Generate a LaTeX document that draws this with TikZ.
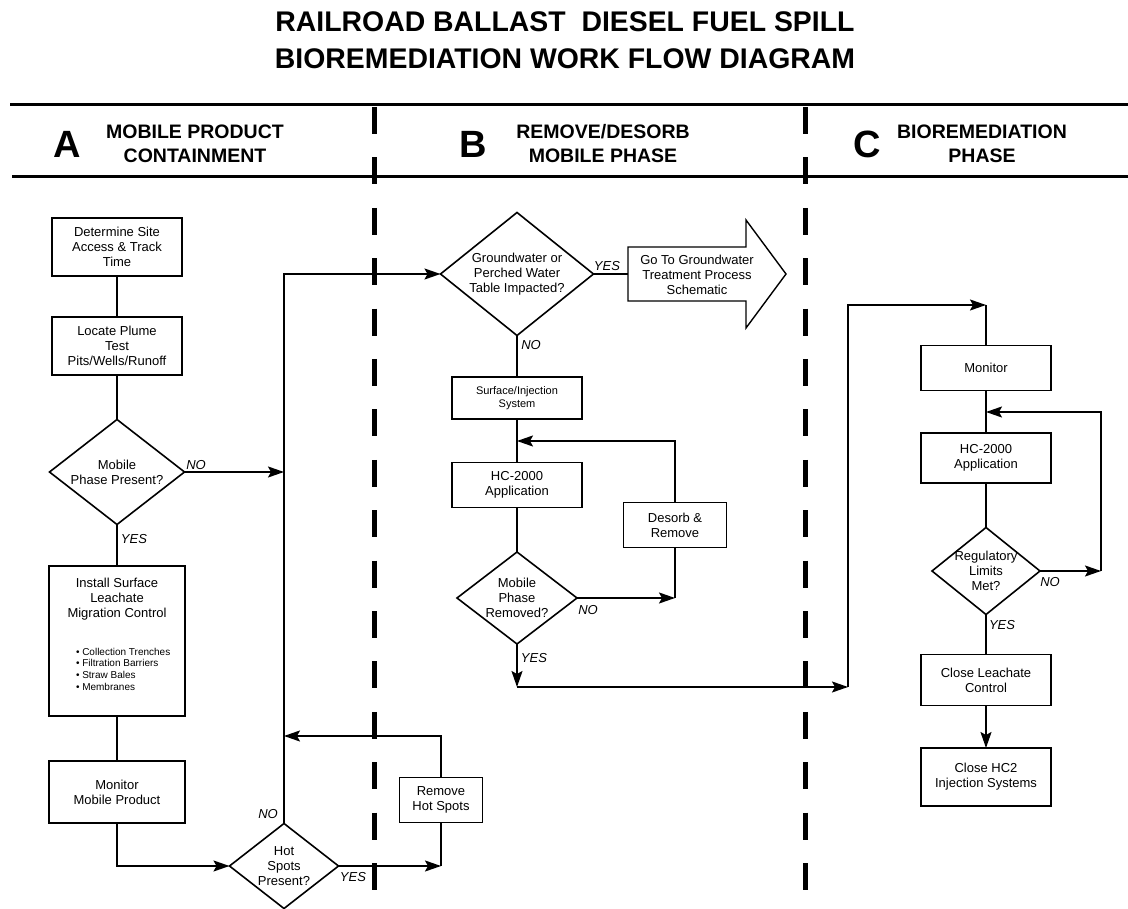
\documentclass[tikz,border=0pt]{standalone}
\usepackage{fontspec}
\setmainfont{Liberation Sans}
\usetikzlibrary{arrows.meta,shapes.geometric,calc}
\begin{document}
\begin{tikzpicture}[x=1pt,y=-1pt,
  every node/.style={inner sep=0pt, outer sep=0pt},
  fbox/.style={draw, line width=1.6pt, align=center, font=\fontsize{13}{15}\selectfont},
  dia/.style={diamond, draw, line width=1.6pt, align=center, inner sep=-10pt, font=\fontsize{13}{15}\selectfont},
  con/.style={line width=1.8pt},
  arr/.style={con, -{Stealth[length=16pt,width=11pt,inset=3pt]}},
  lab/.style={font=\fontsize{13}{15}\selectfont\itshape},
  hdr/.style={font=\fontsize{19.5}{24}\selectfont\bfseries, align=center},
  bigletter/.style={font=\fontsize{38}{40}\selectfont\bfseries},
  sepline/.style={line width=5pt, dash pattern=on 27pt off 23.4pt},
  rule/.style={line width=3pt}
]
\useasboundingbox (0,0) rectangle (1128,909);

% title
\node[font=\fontsize{28.4}{36.5}\selectfont\bfseries, align=center] (title) at (565,40)
  {RAILROAD BALLAST\ \ DIESEL FUEL SPILL\\BIOREMEDIATION WORK FLOW DIAGRAM};

% header band
\draw[rule] (10,105) -- (1128,105);
\draw[rule] (12,177) -- (1128,177);
\draw[sepline] (374,107) -- (374,890);
\draw[sepline] (805,107) -- (805,890);

\node[bigletter] (hA) at (67,144) {A};
\node[hdr] (hAt) at (195,144) {MOBILE PRODUCT\\CONTAINMENT};
\node[bigletter] (hB) at (473,144) {B};
\node[hdr] (hBt) at (603,144) {REMOVE/DESORB\\MOBILE PHASE};
\node[bigletter] (hC) at (867,144) {C};
\node[hdr] (hCt) at (982,144) {BIOREMEDIATION\\PHASE};

% column A
\node[fbox, minimum width=130, minimum height=58] (n1) at (117,247) {Determine Site\\Access \& Track\\Time};
\node[fbox, minimum width=130, minimum height=58] (n2) at (117,346) {Locate Plume\\Test\\Pits/Wells/Runoff};
\node[dia, minimum width=135, minimum height=105] (d1) at (117,472) {Mobile\\Phase Present?};
\node[fbox, minimum width=136, minimum height=150] (n3) at (117,641) {};
\node[font=\fontsize{13}{15}\selectfont, align=center] (n3t) at (117,599) {Install Surface\\Leachate\\Migration Control};
\node[font=\fontsize{10}{11.7}\selectfont, align=left, anchor=west] (n3b) at (76,669)
  {• Collection Trenches\\• Filtration Barriers\\• Straw Bales\\• Membranes};
\node[fbox, minimum width=136, minimum height=62] (n4) at (117,792) {Monitor\\Mobile Product};
\node[dia, minimum width=109, minimum height=85] (d2) at (284,866) {Hot\\Spots\\Present?};
\node[fbox, minimum width=83, minimum height=45] (n5) at (441,800) {Remove\\Hot Spots};
\coordinate (hsin) at (284,736);

% column B
\node[dia, minimum width=153, minimum height=123] (gw) at (517,274) {Groundwater or\\Perched Water\\Table Impacted?};
\draw[line width=1.4pt] (628,247) -- (746,247) -- (746,220) -- (786,274) -- (746,328) -- (746,301) -- (628,301) -- cycle;
\coordinate (gotail) at (628,274);
\node[font=\fontsize{13}{15}\selectfont, align=center] (got) at (697,275) {Go To Groundwater\\Treatment Process\\Schematic};
\node[fbox, font=\fontsize{11}{13}\selectfont, minimum width=130, minimum height=42] (n6) at (517,398) {Surface/Injection\\System};
\node[fbox, minimum width=130, minimum height=45] (n7) at (517,485) {HC-2000\\Application};
\node[dia, minimum width=120, minimum height=92] (d3) at (517,598) {Mobile\\Phase\\Removed?};
\node[fbox, minimum width=103, minimum height=45] (n8) at (675,525) {Desorb \&\\Remove};
\coordinate (hcin) at (517,441);
\coordinate (ydn) at (517,687);
\coordinate (ycor) at (848,687);

% column C
\node[fbox, minimum width=130, minimum height=45] (m1) at (986,368) {Monitor};
\node[fbox, minimum width=130, minimum height=50] (m2) at (986,458) {HC-2000\\Application};
\node[dia, minimum width=108, minimum height=87] (d4) at (986,571) {Regulatory\\Limits\\Met?};
\node[fbox, minimum width=130, minimum height=51] (m3) at (986,680) {Close Leachate\\Control};
\node[fbox, minimum width=130, minimum height=58] (m4) at (986,777) {Close HC2\\Injection Systems};
\coordinate (cin) at (986,305);
\coordinate (rcor) at (1101,571);
\coordinate (m2in) at (986,412);

% connectors column A
\draw[con] (n1.south) -- (n2.north);
\draw[con] (n2.south) -- (d1.north);
\draw[con] (d1.south) -- (n3.north);
\draw[con] (n3.south) -- (n4.north);
\draw[arr] (d1.east) -- (d1.east -| d2.north);
\draw[arr] (n4.south) |- (d2.west);
\draw[arr] (d2.north) |- (gw.west);
\draw[arr] (d2.east) -- (d2.east -| n5.south);
\draw[con] (n5.south) -- (d2.east -| n5.south);
\draw[arr] (n5.north) |- (hsin);

% connectors column B
\draw[con] (gw.east) -- (gotail);
\draw[con] (gw.south) -- (n6.north);
\draw[con] (n6.south) -- (n7.north);
\draw[con] (n7.south) -- (d3.north);
\draw[arr] (d3.east) -- (d3.east -| n8.south);
\draw[con] (n8.south) -- (d3.east -| n8.south);
\draw[arr] (n8.north) |- (hcin);
\draw[arr] (d3.south) -- (ydn);
\draw[arr] (ydn) -- (ycor);
\draw[arr] (ycor) |- (cin);

% connectors column C
\draw[con] (cin) -- (m1.north);
\draw[con] (m1.south) -- (m2.north);
\draw[con] (m2.south) -- (d4.north);
\draw[arr] (d4.east) -- (rcor);
\draw[arr] (rcor) |- (m2in);
\draw[con] (d4.south) -- (m3.north);
\draw[arr] (m3.south) -- (m4.north);

% labels
\node[lab] (l1) at (196,465) {NO};
\node[lab] (l2) at (134,539) {YES};
\node[lab] (l3) at (268,814) {NO};
\node[lab] (l4) at (353,877) {YES};
\node[lab] (l5) at (607,266) {YES};
\node[lab] (l6) at (531,345) {NO};
\node[lab] (l7) at (588,610) {NO};
\node[lab] (l8) at (534,658) {YES};
\node[lab] (l9) at (1050,582) {NO};
\node[lab] (l10) at (1002,625) {YES};
\end{tikzpicture}
\end{document}
